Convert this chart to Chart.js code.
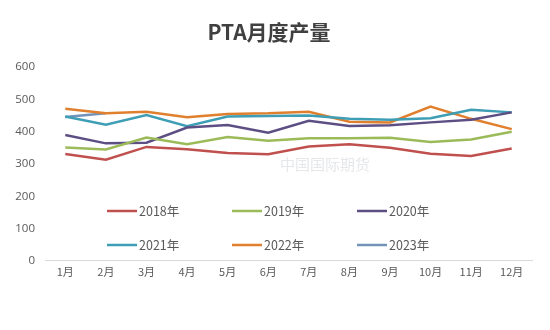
<!DOCTYPE html>
<html lang="zh">
<head>
	<meta charset="UTF-8">
	<title>PTA月度产量</title>
	<script src="https://cdn.jsdelivr.net/npm/chart.js@4/dist/chart.umd.min.js"></script>
	<style>
		body,html{padding:0;margin:0;background:#fff;}
		#box{width:550px;height:330px;position:relative;}
	</style>
</head>
<body>
	<div id="box"><canvas id="ptaChart" width="550" height="330"></canvas></div>
	<script>
		// 月份
		var months = ['1月','2月','3月','4月','5月','6月','7月','8月','9月','10月','11月','12月'];
		// 各年度产量（万吨，读图估计）
		var y2018 = [331,313,353,346,334,330,354,361,350,332,325,348];
		var y2019 = [351,345,382,361,384,372,380,380,381,368,376,400];
		var y2020 = [390,364,366,413,421,397,434,418,420,429,437,460];
		var y2021 = [447,422,452,417,447,449,450,440,437,442,468,460];
		var y2022 = [471,457,462,445,455,457,462,431,429,478,440,408];
		var y2023 = [446,457,null,null,null,null,null,null,null,null,null,null];
		var yearLabels = ['2018年','2019年','2020年','2021年','2022年','2023年'];
		var colors = ['#C0504D','#9BBB59','#5D4E84','#3E9EB5','#E0802E','#7393B8'];

		var series = [y2018,y2019,y2020,y2021,y2022,y2023];
		var datasets = series.map(function(d,i){
			return {
				label:yearLabels[i],
				data:d,
				borderColor:colors[i],
				backgroundColor:colors[i],
				borderWidth:2.5,
				pointRadius:0,
				fill:false,
				tension:0
			};
		});

		// 图内图例（两行三列）
		var innerLegend = {
			id:'innerLegend',
			afterDatasetsDraw:function(chart){
				var ctx = chart.ctx;
				var xs = [107,232,357], ys = [211,245];
				ctx.save();
				ctx.font = '12.5px "Noto Sans CJK SC", sans-serif';
				ctx.textBaseline = 'middle';
				chart.data.datasets.forEach(function(ds,i){
					var x = xs[i%3], y = ys[Math.floor(i/3)];
					ctx.strokeStyle = ds.borderColor;
					ctx.lineWidth = 2.5;
					ctx.beginPath();
					ctx.moveTo(x,y);ctx.lineTo(x+30,y);
					ctx.stroke();
					ctx.fillStyle = '#595959';
					ctx.fillText(ds.label,x+32,y);
				});
				// 水印
				ctx.fillStyle = 'rgba(180,185,195,0.35)';
				ctx.font = '15px "Noto Sans CJK SC", sans-serif';
				ctx.fillText('中国国际期货',280,164);
				ctx.restore();
			}
		};

		var ctx_p = document.getElementById('ptaChart').getContext('2d');
		var chart_p = new Chart(ctx_p,{
			type:'line',
			data:{labels:months,datasets:datasets},
			options:{
				responsive:false,
				animation:false,
				layout:{padding:{left:6,right:18,top:0,bottom:48}},
				plugins:{
					legend:{display:false},
					tooltip:{enabled:false},
					title:{
						display:true,
						text:'PTA月度产量',
						color:'#404040',
						font:{family:'"Noto Sans CJK SC", sans-serif',size:21,weight:'bold'},
						padding:{top:19,bottom:23}
					}
				},
				scales:{
					x:{
						offset:true,
						grid:{display:false,drawTicks:false},
						border:{color:'#d9d9d9',width:1},
						ticks:{color:'#595959',padding:4,font:{family:'"Noto Sans CJK SC", sans-serif',size:11},maxRotation:0,autoSkip:false}
					},
					y:{
						min:0,max:600,
						afterFit:function(s){s.width=39;},
						grid:{display:false,drawTicks:false},
						border:{display:false},
						ticks:{stepSize:100,color:'#595959',padding:10,font:{family:'"Open Sans", sans-serif',size:11.5}}
					}
				}
			},
			plugins:[innerLegend]
		});
	</script>
</body>
</html>
